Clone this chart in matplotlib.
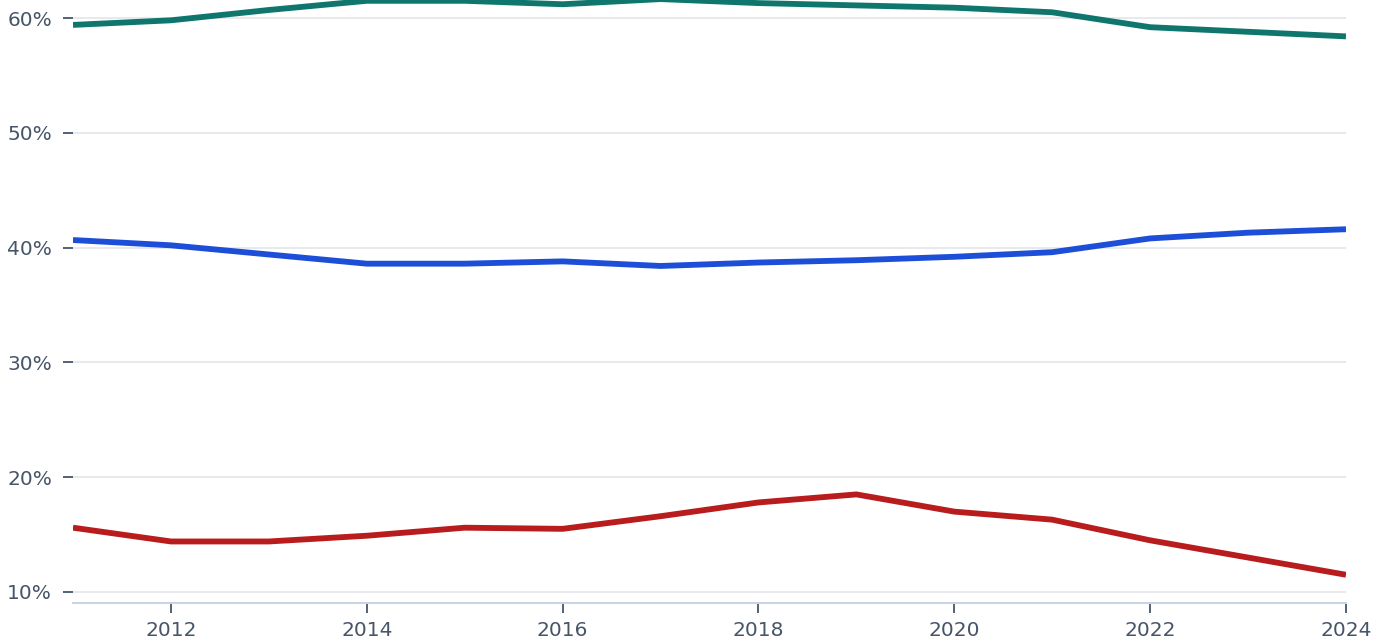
import matplotlib
matplotlib.use("Agg")
import matplotlib.pyplot as plt
from matplotlib.ticker import FuncFormatter

years = [2011, 2012, 2013, 2014, 2015, 2016, 2017, 2018, 2019, 2020, 2021, 2022, 2023, 2024]
green_vals = [59.4, 59.8, 60.7, 61.5, 61.5, 61.2, 61.65, 61.3, 61.1, 60.9, 60.5, 59.2, 58.8, 58.4]
blue_vals = [40.66, 40.2, 39.4, 38.6, 38.6, 38.8, 38.4, 38.7, 38.9, 39.2, 39.6, 40.8, 41.3, 41.6]
red_vals = [15.6, 14.4, 14.4, 14.9, 15.6, 15.5, 16.6, 17.8, 18.5, 17.0, 16.3, 14.5, 13.0, 11.5]
x_ticks = [2012, 2014, 2016, 2018, 2020, 2022, 2024]
y_ticks = [10, 20, 30, 40, 50, 60]

fig = plt.figure(figsize=(13.86, 6.43), dpi=100)
ax = fig.add_axes([73/1386, 40/643, (1346-73)/1386, 603/643])

ax.plot(years, green_vals, color="#0f766e", lw=4.2, solid_capstyle="butt", zorder=3)
ax.plot(years, blue_vals, color="#1d4ed8", lw=4.2, solid_capstyle="butt", zorder=3)
ax.plot(years, red_vals, color="#b91c1c", lw=4.2, solid_capstyle="butt", zorder=3)

ax.set_xlim(2011, 2024)
ax.set_ylim(9.04, 61.57)
ax.set_xticks(x_ticks)
ax.set_yticks(y_ticks)
ax.yaxis.set_major_formatter(FuncFormatter(lambda v, p: f"{v:.0f}%"))

ax.grid(axis="y", color="#e5e7eb", lw=1.3, zorder=0)
ax.grid(axis="x", visible=False)
for s in ["top", "right", "left"]:
    ax.spines[s].set_visible(False)
ax.spines["bottom"].set_color("#cbd5e1")
ax.spines["bottom"].set_linewidth(1.5)

tc = "#475569"
ax.tick_params(axis="y", colors=tc, labelsize=14.5, length=7, width=1.3, pad=8, direction="out")
ax.tick_params(axis="x", colors=tc, labelsize=14.5, length=7, width=1.3, pad=6, direction="out")
ax.set_facecolor("white")
fig.patch.set_facecolor("white")

fig.savefig("out.png", dpi=100, facecolor="white")
